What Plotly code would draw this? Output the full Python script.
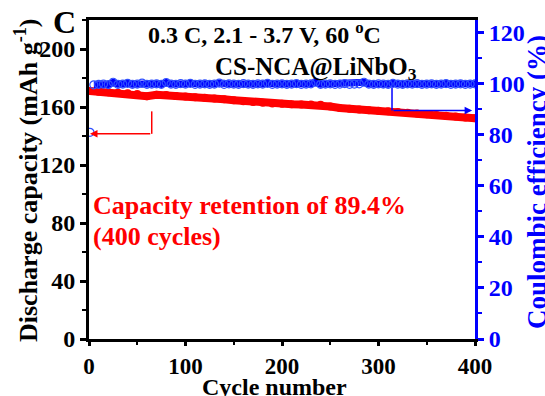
import plotly.graph_objects as go

# Capacity (every 10 cycles)
cap_cycles = [1, 10, 20, 30, 40, 50, 60, 70, 80, 90, 100, 110, 120, 130, 140, 150,
              160, 170, 180, 190, 200, 210, 220, 230, 240, 250, 260, 270, 280, 290,
              300, 310, 320, 330, 340, 350, 360, 370, 380, 390, 400]
capacity = [171.0, 170.6, 170.2, 169.8, 169.4, 168.9, 167.4, 168.5, 168.2, 167.6,
            167.2, 166.7, 166.3, 165.9, 165.3, 164.7, 164.0, 163.5, 163.0, 162.5,
            162.2, 161.9, 161.8, 161.7, 161.5, 160.3, 159.3, 158.8, 158.3, 157.8,
            157.4, 157.0, 156.5, 156.0, 155.5, 155.0, 154.4, 153.9, 153.4, 152.8, 152.3]

# Coulombic efficiency (every 5 cycles)
ce_cycles = [1] + list(range(5, 401, 5))
ce = [81.0,
      99.6, 99.8, 99.9, 99.7, 100.6, 99.8, 99.9, 100.2, 99.8, 99.9,
      100.3, 99.8, 99.9, 100.0, 99.8, 100.5, 99.9, 99.8, 100.1, 99.9,
      100.2, 99.8, 99.9, 100.0, 99.8, 99.9, 100.3, 99.8, 100.0, 99.9,
      99.8, 100.1, 99.9, 99.8, 100.0, 99.9, 100.2, 99.8, 99.9, 100.0,
      99.8, 99.9, 100.1, 99.8, 99.9, 100.0, 100.6, 99.8, 99.9, 100.0,
      99.8, 99.9, 100.1, 99.8, 99.9, 100.0, 100.6, 99.9, 99.8, 100.0,
      99.9, 99.8, 100.2, 99.9, 99.8, 100.0, 99.9, 100.1, 99.8, 99.9,
      100.0, 99.8, 99.9, 100.1, 99.8, 99.9, 100.0, 99.8, 99.9, 100.0]

FONT = "Liberation Serif"

fig = go.Figure()
fig.add_trace(go.Scatter(
    x=cap_cycles, y=capacity, mode="lines+markers",
    line=dict(color="red", width=8),
    marker=dict(color="red", size=8, symbol="circle"),
    showlegend=False))
fig.add_trace(go.Scatter(
    x=ce_cycles[1:], y=ce[1:], mode="lines", yaxis="y2",
    line=dict(color="blue", width=7),
    showlegend=False, hoverinfo="skip"))
fig.add_trace(go.Scatter(
    x=ce_cycles, y=ce, mode="markers", yaxis="y2",
    marker=dict(color="#3050ff", size=8, symbol="circle-open",
                line=dict(color="#4a6aff", width=1.2)),
    showlegend=False))

tickfont = dict(family=FONT, size=24, color="black", weight="bold")

fig.update_layout(
    width=545, height=396,
    margin=dict(l=89, r=70, t=20, b=57),
    plot_bgcolor="white", paper_bgcolor="white",
    xaxis=dict(range=[0, 400], dtick=100, tick0=0, showline=True, linecolor="black",
               linewidth=3, mirror=True, ticks="outside", ticklen=4, tickwidth=3,
               tickcolor="black", showgrid=False, zeroline=False,
               minor=dict(dtick=50, ticks="outside", ticklen=3, tickwidth=2,
                          tickcolor="black", showgrid=False),
               tickfont=dict(family=FONT, size=23, color="black", weight="bold")),
    yaxis=dict(range=[0, 220], dtick=40, tick0=0, showline=True, linecolor="black",
               linewidth=3, ticks="outside", ticklen=6, tickwidth=3, tickcolor="black",
               showgrid=False, zeroline=False,
               minor=dict(dtick=20, ticks="outside", ticklen=4, tickwidth=2,
                          tickcolor="black", showgrid=False),
               tickfont=tickfont),
    yaxis2=dict(range=[0, 125], dtick=20, tick0=0, overlaying="y", side="right",
                showline=True, linecolor="blue", linewidth=3, ticks="outside",
                ticklen=6, tickwidth=3, tickcolor="blue", showgrid=False,
                zeroline=False,
                minor=dict(dtick=10, ticks="outside", ticklen=4, tickwidth=2,
                           tickcolor="blue", showgrid=False),
                tickfont=dict(family=FONT, size=24, color="blue", weight="bold")),
)

ann = [
    dict(text="C", x=64, y=22, font=dict(size=32)),
    dict(text="0.3 C, 2.1 - 3.7 V, 60 <sup>o</sup>C", x=264, y=33, font=dict(size=24)),
    dict(text="CS-NCA@LiNbO<sub>3</sub>", x=316, y=68, font=dict(size=25)),
    dict(text="Capacity retention of 89.4%", x=249, y=205, font=dict(size=26, color="red")),
    dict(text="(400 cycles)", x=157, y=236, font=dict(size=26, color="red")),
    dict(text="Cycle number", x=274, y=387, font=dict(size=24)),
    dict(text="Discharge capacity (mAh g<sup>-1</sup>)", x=27, y=180, font=dict(size=26), textangle=-90),
    dict(text="Coulombic efficiency (%)", x=537, y=182, font=dict(size=27, color="blue"), textangle=-90),
]
for a in ann:
    f = dict(family=FONT, color="black", weight="bold")
    f.update(a.pop("font"))
    fig.add_annotation(xref="paper", yref="paper", showarrow=False,
                       x=(a.pop("x") - 89) / 386, y=(339 - a.pop("y")) / 319,
                       xanchor="center", yanchor="middle", font=f, **a)

# Red arrow (points to left axis)
fig.add_shape(type="line", x0=65, x1=65, y0=157, y1=141.5, xref="x", yref="y",
              line=dict(color="red", width=1.5))
fig.add_annotation(x=1, y=141.5, ax=65, ay=141.5, xref="x", yref="y", axref="x", ayref="y",
                   showarrow=True, arrowhead=2, arrowsize=1, arrowwidth=1.5,
                   arrowcolor="red", text="")
# Blue arrow (points to right axis)
fig.add_shape(type="line", x0=314, x1=314, y0=98.5, y1=89.5, xref="x", yref="y2",
              line=dict(color="blue", width=1.5))
fig.add_annotation(x=397, y=89.5, ax=314, ay=89.5, xref="x", yref="y2", axref="x", ayref="y2",
                   showarrow=True, arrowhead=2, arrowsize=1, arrowwidth=1.5,
                   arrowcolor="blue", text="")

fig.write_html("out.html")
